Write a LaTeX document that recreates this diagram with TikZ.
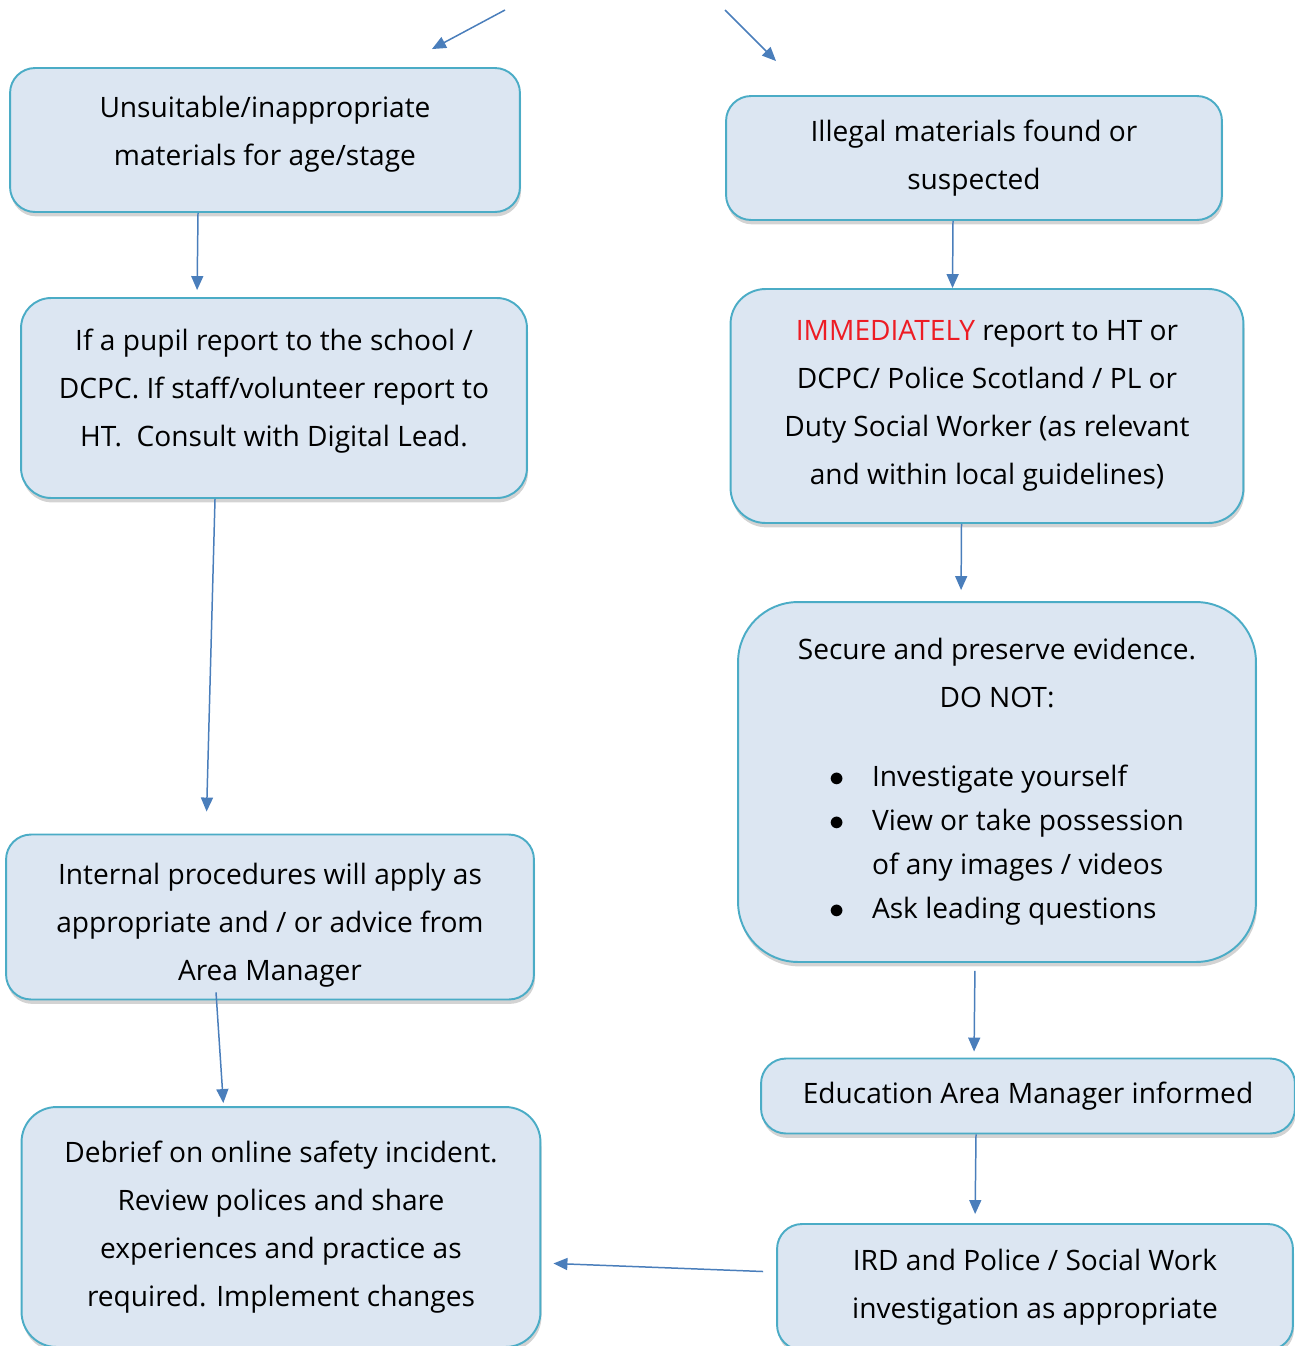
\documentclass[tikz,border=0pt]{standalone}
\usepackage{fontspec}
\setmainfont{Open Sans}
\usetikzlibrary{arrows.meta,shadows}
\definecolor{boxfill}{RGB}{220,230,242}
\definecolor{boxline}{RGB}{75,172,198}
\definecolor{arrowblue}{RGB}{74,126,187}
\definecolor{urgent}{RGB}{237,28,36}
\newcommand{\listdot}{\makebox[0.92cm][l]{\hspace{0.06cm}$\bullet$}}
\begin{document}
\begin{tikzpicture}[x=0.02cm, y=-0.02cm,
    box/.style={draw=boxline, line width=1.1pt, fill=boxfill, rounded corners=0.5cm,
      align=center, inner sep=0pt, font=\fontsize{16}{27.3}\selectfont,
      drop shadow={shadow xshift=0.6pt, shadow yshift=-2.5pt, opacity=0.35}},
    flow/.style={arrowblue, line width=0.85pt, -{Triangle[length=0.28cm,width=0.24cm]}}]
    \useasboundingbox (0,0) rectangle (1295,1346);

    % left column
    \node[box, minimum width=10.2cm, minimum height=2.88cm] (unsuit) at (265,140)
      {Unsuitable/inappropriate\\materials for age/stage\rule[-11pt]{0pt}{0pt}};
    \node[box, minimum width=10.12cm, minimum height=4cm, rounded corners=0.6cm] (pupil) at (274,398)
      {If a pupil report to the school /\\DCPC. If staff/volunteer report to\\HT.\ \ Consult with Digital Lead.\rule[-11.5pt]{0pt}{0pt}};
    \node[box, minimum width=10.56cm, minimum height=3.3cm] (internal) at (270,917)
      {\rule{0pt}{22pt}Internal procedures will apply as\\appropriate and / or advice from\\Area Manager};
    \node[box, minimum width=10.38cm, minimum height=4.8cm, rounded corners=0.7cm] (debrief) at (281,1227)
      {Debrief on online safety incident.\\Review polices and share\\experiences and practice as\\required. Implement changes};

    % right column
    \node[box, minimum width=9.92cm, minimum height=2.48cm] (illegal) at (974,158)
      {Illegal materials found or\\suspected};
    \node[box, minimum width=10.26cm, minimum height=4.68cm, rounded corners=0.7cm] (immed) at (987,406)
      {{\color{urgent}IMMEDIATELY} report to HT or\\DCPC/ Police Scotland / PL or\\Duty Social Worker (as relevant\\and within local guidelines)};
    \node[box, minimum width=10.36cm, minimum height=7.2cm, rounded corners=1.2cm] (secure) at (997,782)
      {Secure and preserve evidence.\\DO NOT:\\[17.6pt]
       \makebox[6.84cm][l]{\listdot Investigate yourself}\\[-2.2pt]
       \makebox[6.84cm][l]{\listdot View or take possession}\\[-2.2pt]
       \makebox[6.84cm][l]{\makebox[0.92cm][l]{}of any images / videos}\\[-2.2pt]
       \makebox[6.84cm][l]{\listdot Ask leading questions}};
    \node[box, minimum width=10.68cm, minimum height=1.5cm] (educ) at (1028,1096)
      {Education Area Manager informed};
    \node[box, minimum width=10.32cm, minimum height=2.52cm] (ird) at (1035,1287)
      {IRD and Police / Social Work\\investigation as appropriate};

    % incoming arrows at the top
    \coordinate (topL) at (505,10);
    \coordinate (topR) at (725,10);
    \draw[flow] (topL) -- ([xshift=3.34cm,yshift=0.36cm]unsuit.north);
    \draw[flow] (topR) -- ([xshift=-3.96cm,yshift=0.68cm]illegal.north);

    % connectors
    \draw[flow, shorten >=0.14cm] ([xshift=-1.34cm]unsuit.south) -- ([xshift=-1.54cm]pupil.north);
    \draw[flow, shorten >=0.44cm] ([xshift=-1.18cm]pupil.south) -- ([xshift=-1.28cm]internal.north);
    \draw[flow, shorten >=0.06cm] ([xshift=-1.08cm,yshift=0.16cm]internal.south) -- ([xshift=-1.15cm]debrief.north);
    \draw[flow] ([xshift=-0.42cm]illegal.south) -- ([xshift=-0.69cm]immed.north);
    \draw[flow, shorten >=0.22cm] ([xshift=-0.51cm]immed.south) -- ([xshift=-0.72cm]secure.north);
    \draw[flow, shorten <=0.16cm, shorten >=0.12cm] ([xshift=-0.44cm]secure.south) -- ([xshift=-1.08cm]educ.north);
    \draw[flow, shorten >=0.18cm] ([xshift=-1.04cm]educ.south) -- ([xshift=-1.2cm]ird.north);
    \draw[flow, shorten <=0.26cm, shorten >=0.24cm] ([yshift=0.3cm]ird.west) -- ([yshift=-0.72cm]debrief.east);
\end{tikzpicture}
\end{document}
